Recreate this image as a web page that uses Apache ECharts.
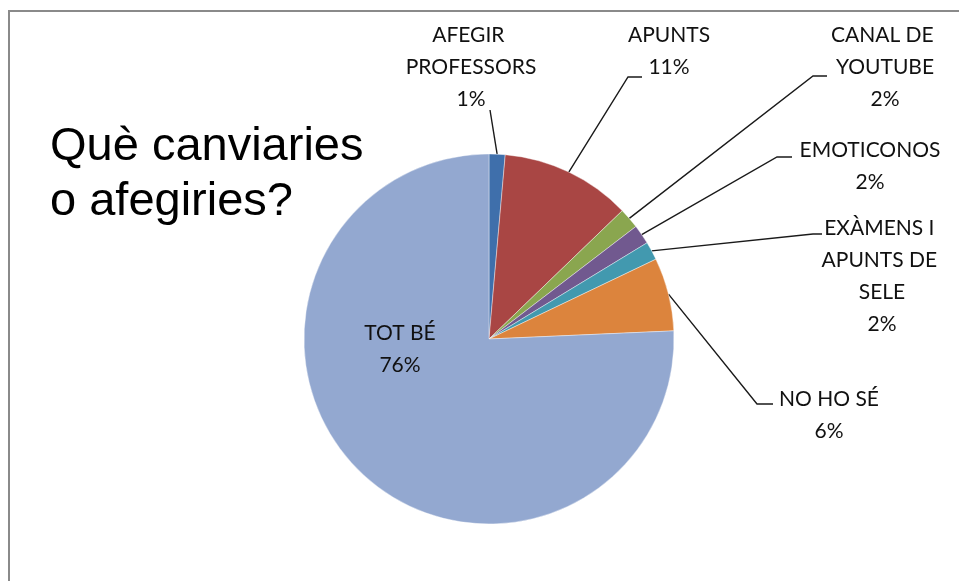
<!DOCTYPE html>
<html>
<head>
<meta charset="utf-8">
<script src="https://cdn.jsdelivr.net/npm/echarts@6/dist/echarts.min.js"></script>
<style>
html,body{margin:0;padding:0;background:#fff;}
#chart{width:959px;height:581px;}
</style>
</head>
<body>
<div id="chart"></div>
<script>
// ---- data ----
const categories = ['AFEGIR PROFESSORS', 'APUNTS', 'CANAL DE YOUTUBE', 'EMOTICONOS', 'EXÀMENS I APUNTS DE SELE', 'NO HO SÉ', 'TOT BÉ'];
const values = [1.4, 11.4, 1.8, 1.7, 1.6, 6.4, 75.7];
const titleText = 'Què canviaries\no afegiries?';

// ---- styling / layout ----
const colors = ['#3F6FAB', '#A94644', '#8AA64F', '#71598F', '#4299AF', '#DC843D', '#93A8D0'];
const labelWidths = [150, 140, 118, 170, 128, 120, 120];
const labelPos = [
  {x: 471, y: 19, line: [[490, 110], [490, 110]]},
  {x: 669, y: 19, line: [[628, 77], [642, 77]]},
  {x: 885, y: 19, line: [[813, 76], [827, 76]]},
  {x: 870, y: 134, line: [[777, 157], [792, 157]]},
  {x: 882, y: 212, line: [[813, 234], [822, 234]]},
  {x: 829, y: 383, line: [[757, 404], [773, 404]]},
  {x: 400, y: 317, line: null}
];

const chart = echarts.init(document.getElementById('chart'), null, {renderer: 'canvas'});

const data = categories.map((c, i) => {
  const item = {
    name: c,
    value: values[i],
    itemStyle: {color: colors[i]},
    label: {width: labelWidths[i]}
  };
  if (i === categories.length - 1) {
    item.label.position = 'inside';
    item.labelLine = {show: false};
  }
  return item;
});

chart.setOption({
  animation: false,
  backgroundColor: '#ffffff',
  title: {
    text: titleText,
    left: 45,
    top: 115,
    textStyle: {
      fontFamily: 'Liberation Sans',
      fontSize: 47,
      fontWeight: 'normal',
      color: '#000',
      lineHeight: 55
    }
  },
  graphic: [{
    type: 'rect',
    shape: {x: 9, y: 11, width: 1000, height: 700},
    style: {fill: null, stroke: '#8a8a8a', lineWidth: 2},
    silent: true,
    z: 100
  }],
  series: [{
    type: 'pie',
    center: [489, 339],
    radius: 185,
    startAngle: 90,
    clockwise: true,
    avoidLabelOverlap: false,
    percentPrecision: 0,
    itemStyle: {borderColor: '#ffffff', borderWidth: 0.4},
    label: {
      show: true,
      position: 'outside',
      formatter: '{b}\n{d}%',
      fontFamily: 'Lato',
      fontSize: 21,
      lineHeight: 32,
      color: '#111',
      overflow: 'break',
      align: 'center'
    },
    labelLine: {
      show: true,
      length: 20,
      length2: 10,
      lineStyle: {color: '#1a1a1a', width: 1.4}
    },
    labelLayout: function (p) {
      const L = labelPos[p.dataIndex];
      const r = {x: L.x, y: L.y, align: 'center', verticalAlign: 'top'};
      if (L.line && p.labelLinePoints) {
        r.labelLinePoints = [p.labelLinePoints[0], L.line[0], L.line[1]];
      }
      return r;
    },
    data: data
  }]
});
</script>
</body>
</html>
